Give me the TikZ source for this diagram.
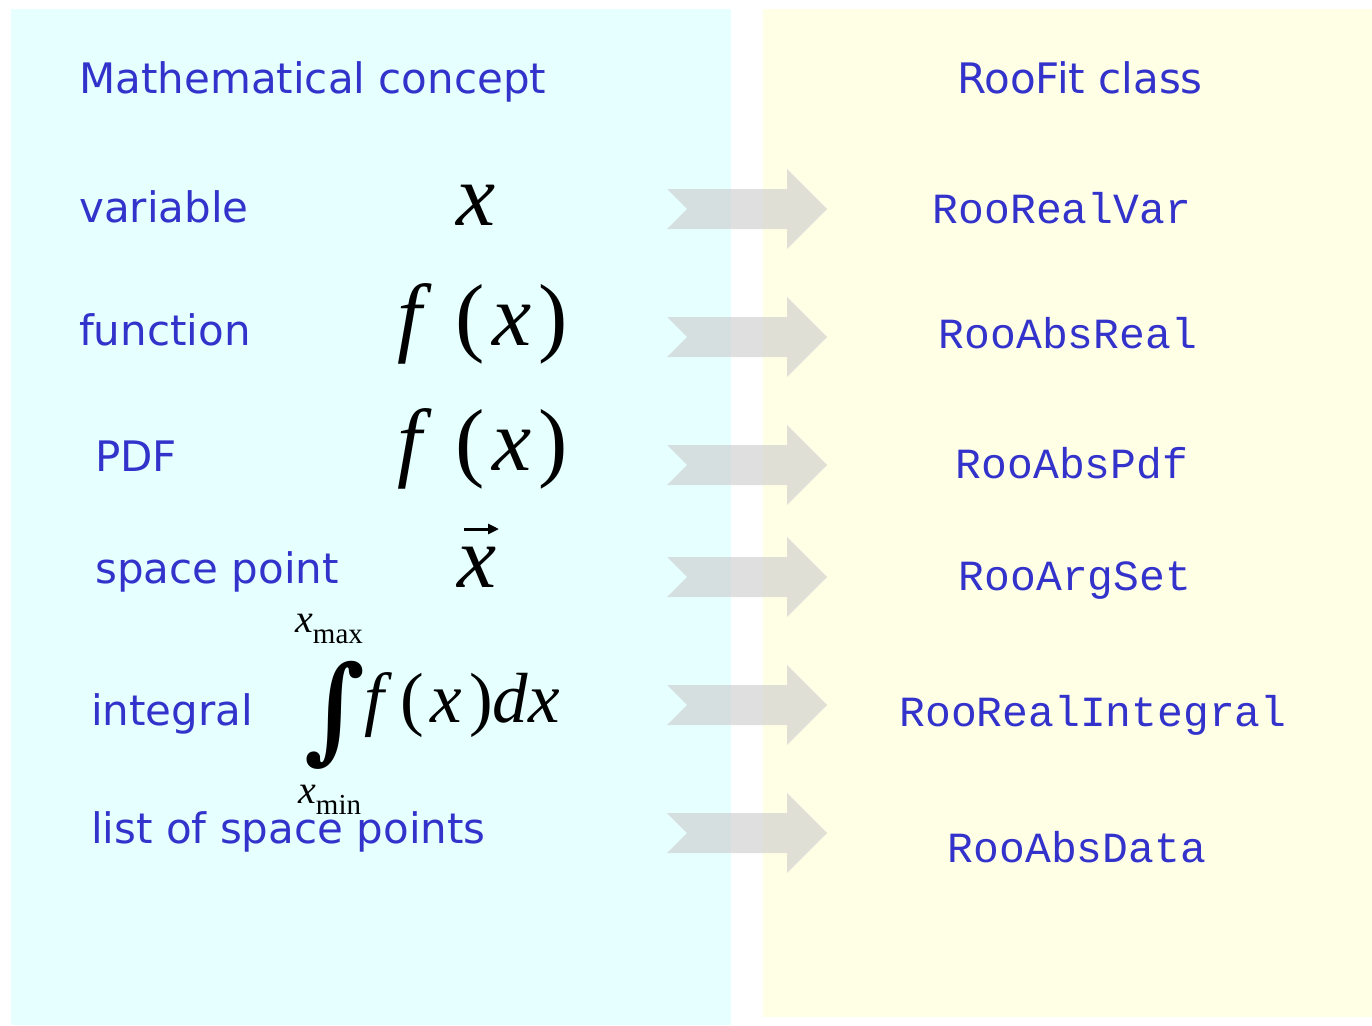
\documentclass[tikz,border=0pt]{standalone}
\usepackage{fontspec}
\usepackage{graphicx}
\setmainfont{DejaVu Sans}
\newfontfamily\codefont{Liberation Mono}
\newfontfamily\mathserif{Liberation Serif}
\newfontfamily\intfont{DejaVu Serif}
\usetikzlibrary{arrows.meta}
\definecolor{cyanbg}{RGB}{230,255,255}
\definecolor{yellowbg}{RGB}{255,255,230}
\definecolor{txtblue}{RGB}{51,51,204}
\definecolor{arrowgray}{RGB}{206,206,206}
\newcommand{\fofx}{{\itshape f}\hspace{34pt}(\hspace{8pt}{\itshape x}\hspace{6pt})}
\begin{document}
\begin{tikzpicture}[x=1pt,y=-1pt,
  lbl/.style={anchor=base west, text=txtblue, font=\fontsize{42}{48}\selectfont, inner sep=0pt},
  cls/.style={anchor=base, text=txtblue, font=\codefont\fontsize{43}{48}\selectfont, inner sep=0pt},
  mth/.style={anchor=base, font=\mathserif\fontsize{88}{100}\selectfont, inner sep=0pt},
  imth/.style={anchor=base west, font=\mathserif\fontsize{71}{78}\selectfont, inner sep=0pt},
  lim/.style={anchor=base west, font=\mathserif\fontsize{40}{46}\selectfont, inner sep=0pt},
  bigarrow/.pic={\fill[arrowgray, fill opacity=0.64] (-80,-20) -- (40,-20) -- (40,-40) -- (80,0) -- (40,40) -- (40,20) -- (-80,20) -- (-60,0) -- cycle;}]
\useasboundingbox (0,0) rectangle (1372,1025);
\fill[white] (0,0) rectangle (1372,1025);
\fill[cyanbg] (11,9) rectangle (731,1025);
\fill[yellowbg] (763,9) rectangle (1372,1017);

\node[lbl] (t1) at (79,93) {Mathematical concept};
\node[lbl, anchor=base] (t2) at (1080,93) {RooFit class};

\node[lbl] (l1) at (79,222) {variable};
\node[lbl] (l2) at (79,345) {function};
\node[lbl] (l3) at (95,471) {PDF};
\node[lbl] (l4) at (95,583) {space point};
\node[lbl] (l5) at (91,725) {integral};
\node[lbl] (l6) at (91,843) {list of space points};

\node[mth] (m1) at (476,225) {\itshape x};
\node[mth, anchor=base west] (m2) at (397,345) {\fofx};
\node[mth, anchor=base west] (m3) at (397,470) {\fofx};
\node[mth] (m4) at (477,587) {\itshape x};
\draw[line width=3pt, -{Triangle[length=11pt,width=10pt]}] ([shift={(-13,-58)}]m4.base) -- ([shift={(22,-58)}]m4.base);

\node[anchor=center, inner sep=0pt, font=\intfont\bfseries\fontsize{100}{110}\selectfont] (int) at (335,715) {\scalebox{1.05}[1.15]{∫}};
\node[imth] (m5) at (364,722) {{\itshape f}\hspace{17pt}(\hspace{6pt}{\itshape x}\hspace{7pt}){\itshape dx}};
\node[lim] (xmax) at (295,632) {{\itshape x}\raisebox{-11pt}{\fontsize{29}{32}\selectfont max}};
\node[lim] (xmin) at (298,803) {{\itshape x}\raisebox{-11pt}{\fontsize{29}{32}\selectfont min}};

\pic (a1) at (747,209) {bigarrow};
\pic (a2) at (747,337) {bigarrow};
\pic (a3) at (747,465) {bigarrow};
\pic (a4) at (747,577) {bigarrow};
\pic (a5) at (747,705) {bigarrow};
\pic (a6) at (747,833) {bigarrow};

\node[cls] (c1) at (1062,223) {RooRealVar};
\node[cls] (c2) at (1068,348) {RooAbsReal};
\node[cls] (c3) at (1072,478) {RooAbsPdf};
\node[cls] (c4) at (1075,590) {RooArgSet};
\node[cls] (c5) at (1093,726) {RooRealIntegral};
\node[cls] (c6) at (1077,862) {RooAbsData};
\end{tikzpicture}
\end{document}
